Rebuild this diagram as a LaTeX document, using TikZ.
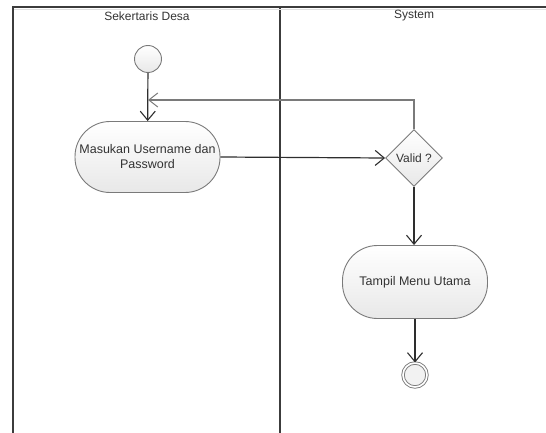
\documentclass[tikz,border=0pt]{standalone}
\usepackage{fontspec}
\setmainfont{Liberation Sans}
\usetikzlibrary{shapes.geometric,arrows.meta}
\definecolor{lanecol}{HTML}{3C3C3C}
\definecolor{edgecol}{HTML}{7A7A7A}
\definecolor{txtcol}{HTML}{333333}
\definecolor{flowcol}{HTML}{2E2E2E}
\tikzset{
  lane/.style={draw=lanecol, line width=1.4pt},
  actbox/.style={draw=edgecol, line width=0.9pt, rounded corners=35pt,
    top color=white, bottom color=black!9, text=txtcol,
    minimum width=145pt, minimum height=71pt, align=center,
    font=\fontsize{12.5}{15}\selectfont},
  decide/.style={draw=edgecol, line width=0.9pt, diamond, aspect=1,
    top color=white, bottom color=black!9, text=txtcol,
    minimum width=57pt, minimum height=57pt, inner sep=0pt,
    font=\fontsize{12}{14}\selectfont},
  startdot/.style={circle, draw=edgecol, line width=0.9pt, top color=white,
    bottom color=black!9, minimum size=27pt, inner sep=0pt},
  enddot/.style={circle, draw=edgecol, line width=0.9pt, double=white,
    double distance=1.6pt, fill=black!5, minimum size=24pt, inner sep=0pt},
  flow/.style={draw=flowcol, line width=1.2pt,
    -{Straight Barb[length=9pt,width=15pt,line width=1.1pt]}},
  backflow/.style={draw=edgecol, line width=1.1pt,
    -{Straight Barb[length=9pt,width=14pt,line width=1pt]}},
  lanehead/.style={text=txtcol, font=\fontsize{12}{14}\selectfont}
}
\begin{document}
\begin{tikzpicture}[x=1pt,y=-1pt]
  \useasboundingbox (0,0) rectangle (546,433);
  % swimlanes
  \draw[lane] (13,433) -- (13,7) -- (546,7);
  \draw[lane] (280,7) -- (280,433);
  \draw[black!12, line width=1.5pt] (14,9.5) -- (546,9.5);
  \node[lanehead] (laneA) at (147,16) {Sekertaris Desa};
  \node[lanehead] (laneB) at (414,16) {System};
  % nodes
  \node[startdot] (start) at (148,59) {};
  \node[actbox] (login) at (147.5,157) {Masukan Username dan\\Password};
  \node[decide] (valid) at (414,158) {Valid ?};
  \node[actbox, minimum height=73pt] (menu) at (415,282) {Tampil Menu Utama};
  \node[enddot] (stop) at (415,375) {};
  \coordinate (loopA) at (414,100);
  \coordinate (loopB) at (148,100);
  % flows
  \draw[flow] (start) -- (login);
  \draw[flow] (login.east) -- (valid.west);
  \draw[flow] (valid.south) -- (menu.north -| valid.south);
  \draw[flow] (menu.south -| stop) -- (stop);
  \draw[backflow] (valid.north) -- (loopA) -- (loopB);
\end{tikzpicture}
\end{document}
